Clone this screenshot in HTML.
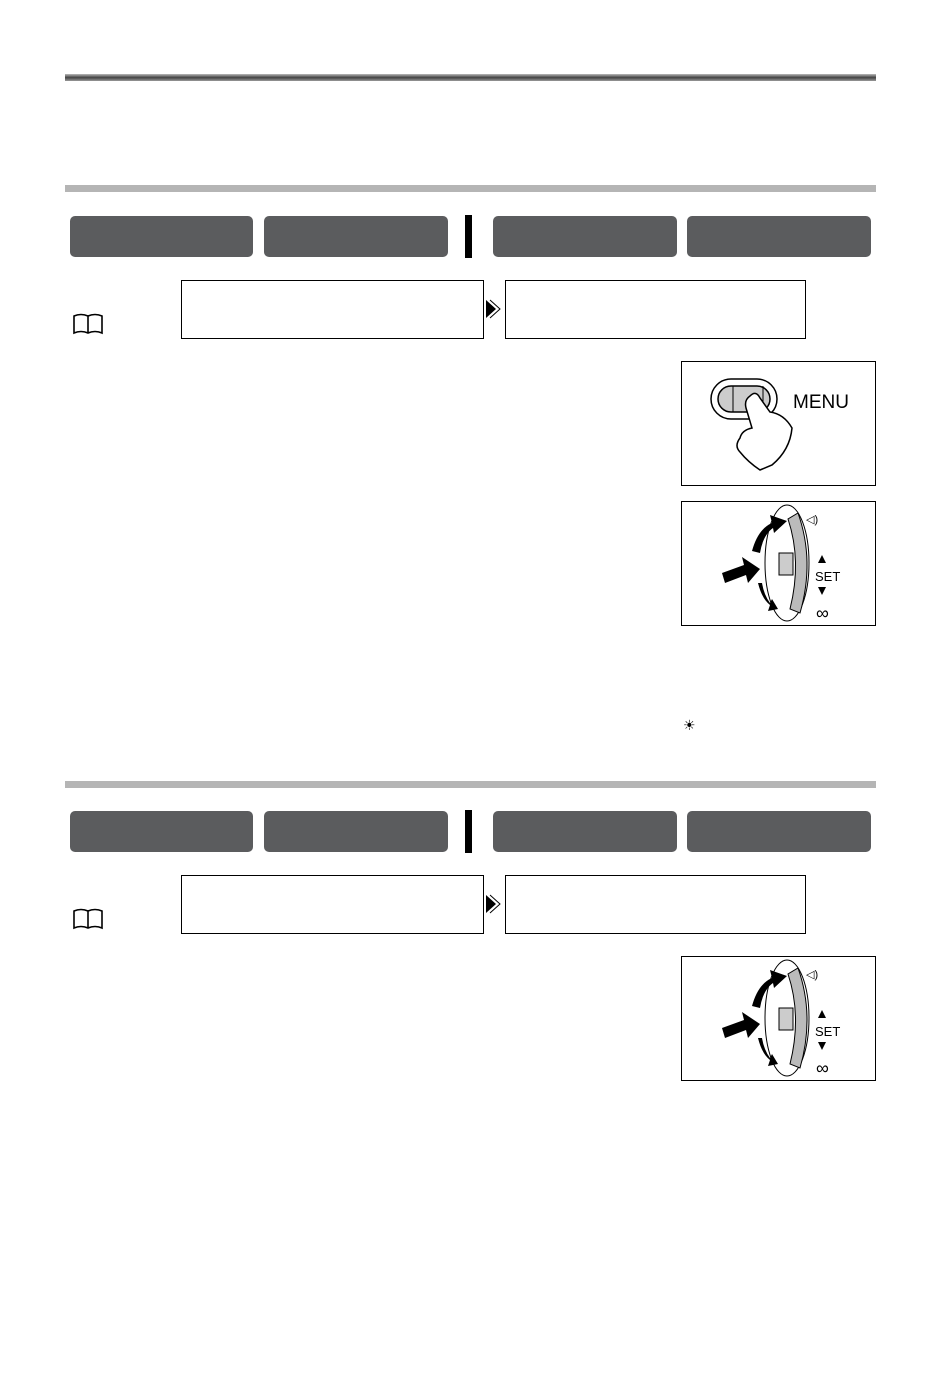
<!DOCTYPE html>
<html><head><style>
html,body{margin:0;padding:0;background:#fff;}
svg{display:block;}
text{font-family:"Liberation Sans",sans-serif;}
</style></head><body>
<svg width="950" height="1377" viewBox="0 0 950 1377" xmlns="http://www.w3.org/2000/svg">
<defs>
<linearGradient id="g1" x1="0" y1="0" x2="0" y2="1">
<stop offset="0" stop-color="#bbb"/><stop offset="0.5" stop-color="#444"/><stop offset="1" stop-color="#999"/>
</linearGradient>
<g id="book"><path d="M0 3 Q7 0 14 3 Q21 0 28 3 L28 20 Q21 17 14 20 Q7 17 0 20 Z M14 3 L14 20" fill="none" stroke="#000" stroke-width="1.6"/></g>
<g id="tabs">
<rect x="70" y="0" width="183" height="41" rx="5" fill="#5b5c5e"/>
<rect x="264" y="0" width="184" height="41" rx="5" fill="#5b5c5e"/>
<rect x="465" y="-1" width="7" height="43" fill="#000"/>
<rect x="493" y="0" width="184" height="41" rx="5" fill="#5b5c5e"/>
<rect x="687" y="0" width="184" height="41" rx="5" fill="#5b5c5e"/>
</g>
<g id="boxes">
<rect x="181.5" y="0.5" width="302" height="58" fill="none" stroke="#000"/>
<rect x="505.5" y="0.5" width="300" height="58" fill="none" stroke="#000"/>
<path d="M486 20 L496 29 L486 38 Z" fill="#000"/>
<path d="M490 20 L500 29 L490 38" fill="none" stroke="#000" stroke-width="1"/>
</g>
<g id="dial">
<rect x="681.5" y="0.5" width="194" height="124" fill="#fff" stroke="#000"/>
<ellipse cx="787" cy="62" rx="22" ry="58" fill="none" stroke="#000" stroke-width="1"/>
<path d="M798 12 Q815 60 800 112 L790 108 Q802 60 788 18 Z" fill="#bbb" stroke="#000"/>
<rect x="779" y="52" width="14" height="22" fill="#ccc" stroke="#000"/>
<path d="M752 50 Q758 28 772 22 L770 14 L787 20 L774 32 L773 27 Q763 34 760 52 Z" fill="#000"/>
<path d="M722 72 L744 64 L742 56 L760 68 L748 82 L746 74 L725 82 Z" fill="#000"/>
<path d="M758 82 Q762 98 770 104 L768 110 L778 108 L772 98 L770 102 Q764 94 762 82 Z" fill="#000"/>
<text x="806" y="22" font-size="11">◁)</text>
<path d="M822 54 L826 62 L818 62 Z" fill="#000"/>
<text x="815" y="80" font-size="13" font-family="Liberation Sans">SET</text>
<path d="M818 86 L826 86 L822 94 Z" fill="#000"/>
<text x="816" y="118" font-size="18">∞</text>
</g>
</defs>

<rect x="65" y="74" width="811" height="7" fill="url(#g1)"/>
<rect x="65" y="185" width="811" height="7" fill="#b5b5b5"/>
<use href="#tabs" y="216"/>
<use href="#boxes" y="280"/>
<use href="#book" x="74" y="313"/>

<rect x="681.5" y="361.5" width="194" height="124" fill="#fff" stroke="#000"/>
<rect x="711" y="379" width="66" height="40" rx="20" fill="#fff" stroke="#000" stroke-width="1.5"/>
<rect x="718" y="386" width="52" height="26" rx="13" fill="#ccc" stroke="#000" stroke-width="1.5"/>
<line x1="733" y1="386" x2="733" y2="412" stroke="#000"/>
<line x1="763" y1="386" x2="763" y2="412" stroke="#000"/>
<path d="M750 396 Q756 390 760 398 L770 412 Q784 414 792 428 Q790 450 772 465 L760 470 Q748 462 740 452 Q734 446 740 438 Q742 430 752 428 L746 408 Q744 400 750 396 Z" fill="#fff" stroke="#000" stroke-width="1.5"/>
<text x="793" y="408" font-size="19" font-family="Liberation Sans">MENU</text>

<use href="#dial" y="501"/>
<text x="683" y="730" font-size="14">☀</text>

<rect x="65" y="781" width="811" height="7" fill="#b5b5b5"/>
<use href="#tabs" y="811"/>
<use href="#boxes" y="875"/>
<use href="#book" x="74" y="908"/>
<use href="#dial" y="956"/>
</svg>
</body></html>
